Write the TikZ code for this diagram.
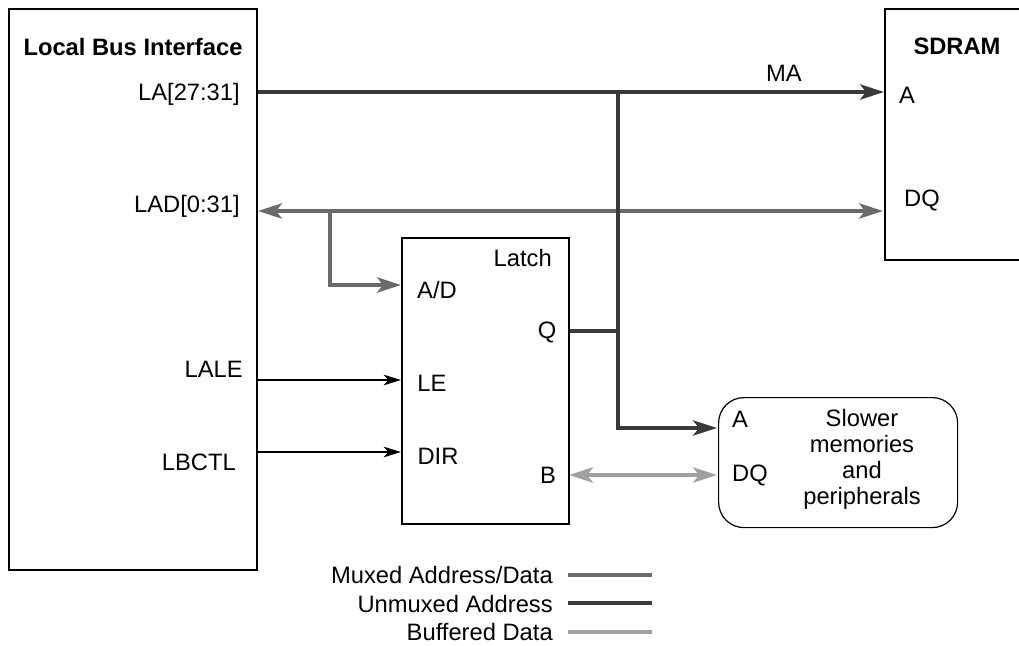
\documentclass[tikz,border=0pt]{standalone}
\usepackage{fontspec}
\setmainfont{Liberation Sans}
\usetikzlibrary{arrows.meta}
\definecolor{muxc}{HTML}{6B6B6B}
\definecolor{unmuxc}{HTML}{3A3A3A}
\definecolor{bufc}{HTML}{A0A0A0}
\tikzset{
  blockbox/.style={draw=black, line width=1.6pt},
  lbl/.style={inner sep=0pt, font=\fontsize{17.8}{19.5}\selectfont},
  ttl/.style={inner sep=0pt, font=\fontsize{17.8}{19.5}\selectfont\bfseries},
  muxline/.style={draw=muxc, line width=2.6pt, line cap=butt, line join=miter},
  unmuxline/.style={draw=unmuxc, line width=2.6pt, line cap=butt, line join=miter},
  bufline/.style={draw=bufc, line width=2.6pt, line cap=butt},
  ctlline/.style={draw=black, line width=1.4pt},
}
\begin{document}
\begin{tikzpicture}[x=0.75pt, y=-0.75pt]
\useasboundingbox (0,0) rectangle (1019,645);
\begin{scope}
\clip (0,0) rectangle (1019,645);
% boxes
\node[blockbox, minimum width=248*0.75pt, minimum height=561*0.75pt, inner sep=0pt, anchor=north west] (lbi) at (8,8) {};
\node[blockbox, minimum width=160*0.75pt, minimum height=251*0.75pt, inner sep=0pt, anchor=north west] (sdram) at (884,8) {};
\node[blockbox, minimum width=167*0.75pt, minimum height=286*0.75pt, inner sep=0pt, anchor=north west] (latch) at (401,237) {};
\node[draw=black, line width=0.9pt, rounded corners=19pt, minimum width=239*0.75pt, minimum height=130*0.75pt, inner sep=0pt, anchor=north west] (slow) at (718,397) {};
\end{scope}

% titles and labels
\node[ttl] (lbititle) at (133,47) {Local Bus Interface};
\node[ttl] (sdramtitle) at (957,46) {SDRAM};
\node[lbl, anchor=east] (tla) at (240,94) {LA[27:31]};
\node[lbl, anchor=east] (tlad) at (240,206) {LAD[0:31]};
\node[lbl, anchor=east] (tlale) at (243,369) {LALE};
\node[lbl, anchor=east] (tlbctl) at (236,462) {LBCTL};
\node[lbl] (tma) at (784,73) {MA};
\node[lbl] (tsa) at (907,95) {A};
\node[lbl] (tsdq) at (922,200) {DQ};
\node[lbl, anchor=east] (tlatch) at (552,258) {Latch};
\node[lbl] (tad) at (437,290) {A/D};
\node[lbl] (tq) at (547,332) {Q};
\node[lbl] (tle) at (432,383) {LE};
\node[lbl] (tdir) at (438,456) {DIR};
\node[lbl] (tb) at (548,475) {B};
\node[lbl] (tslowa) at (740,419) {A};
\node[lbl] (tslowdq) at (750,475) {DQ};
\node[lbl, align=center] (tslow) at (862,459) {Slower\\memories\\and\\peripherals};

% pin coordinates
\coordinate (laout) at (lbi.east |- 0,92);
\coordinate (ladout) at (258,211);
\coordinate (laleout) at (lbi.east |- 0,380);
\coordinate (lbctlout) at (lbi.east |- 0,452);
\coordinate (sa) at (sdram.west |- 0,92);
\coordinate (sdq) at (883,211);
\coordinate (lad) at (latch.west |- 0,285);
\coordinate (lle) at (latch.west |- 0,380);
\coordinate (ldir) at (latch.west |- 0,452);
\coordinate (lq) at (latch.east |- 0,331);
\coordinate (lb) at (569,475);
\coordinate (slowa) at (717,428);
\coordinate (slowdq) at (717,475);
\coordinate (brmux) at (330,211);
\coordinate (brun) at (618,92);
\coordinate (brq) at (618,331);

% connectors
\draw[muxline, {Stealth[length=18pt, width=11.5pt, inset=4.5pt]}-{Stealth[length=18pt, width=11.5pt, inset=4.5pt]}] (ladout) -- (sdq);
\draw[muxline, -{Stealth[length=18pt, width=11.5pt, inset=4.5pt]}] (brmux) |- (lad);
\draw[unmuxline, -{Stealth[length=18pt, width=11.5pt, inset=4.5pt]}] (laout) -- (sa);
\draw[unmuxline, -{Stealth[length=18pt, width=11.5pt, inset=4.5pt]}] (brun) |- (slowa);
\draw[unmuxline] (lq) -- (brq);
\draw[bufline, {Stealth[length=18pt, width=11.5pt, inset=4.5pt]}-{Stealth[length=18pt, width=11.5pt, inset=4.5pt]}] (lb) -- (slowdq);
\draw[ctlline, -{Stealth[length=13pt, width=8pt, inset=3.5pt]}] (laleout) -- (lle);
\draw[ctlline, -{Stealth[length=13pt, width=8pt, inset=3.5pt]}] (lbctlout) -- (ldir);

% legend
\node[lbl, anchor=east] (lg1) at (553,575) {Muxed Address/Data};
\node[lbl, anchor=east] (lg2) at (553,604) {Unmuxed Address};
\node[lbl, anchor=east] (lg3) at (553,632) {Buffered Data};
\coordinate (lg1a) at (568,575); \coordinate (lg1b) at (652,575);
\coordinate (lg2a) at (568,603); \coordinate (lg2b) at (652,603);
\coordinate (lg3a) at (568,632); \coordinate (lg3b) at (652,632);
\draw[muxline] (lg1a) -- (lg1b);
\draw[unmuxline] (lg2a) -- (lg2b);
\draw[bufline] (lg3a) -- (lg3b);
\end{tikzpicture}
\end{document}
